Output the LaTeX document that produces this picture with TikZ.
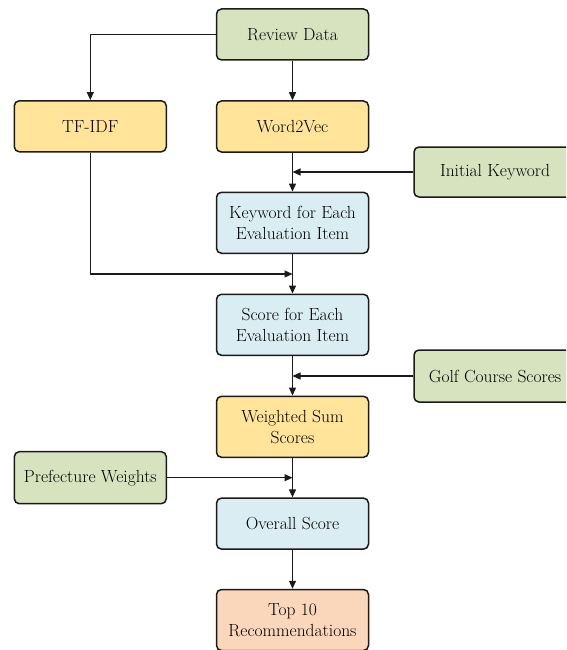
\documentclass[tikz,border=0pt]{standalone}
\usetikzlibrary{arrows.meta}
\definecolor{cgreen}{HTML}{D7E3BF}
\definecolor{cyellow}{HTML}{FFE499}
\definecolor{cblue}{HTML}{DAEDF3}
\definecolor{cpeach}{HTML}{FAD7BA}
\definecolor{cline}{HTML}{1A1A1A}
\begin{document}
\begin{tikzpicture}[x=1pt,y=-1pt,
  box/.style={draw=cline, line width=1.5pt, rounded corners=5pt, minimum width=152pt, align=center, inner sep=2pt,
    font=\rmfamily\fontsize{17.5}{21}\selectfont, text=black},
  one/.style={minimum height=51pt},
  two/.style={minimum height=61pt},
  side/.style={box, minimum width=162pt, fill=cgreen},
  arr/.style={draw=cline, line width=1.2pt, -{Triangle[length=8pt,width=7pt]}}]
\useasboundingbox (0,0) rectangle (566,650);
\clip (0,0) rectangle (566,650);
\node[box,one,fill=cgreen] (rd) at (292.5,34.5) {Review Data};
\node[box,one,fill=cyellow] (tf) at (90.3,126.3) {TF-IDF};
\node[box,one,fill=cyellow] (wv) at (292.5,126.5) {Word2Vec};
\node[side,minimum height=50pt] (ik) at (495,172) {Initial Keyword};
\node[box,two,fill=cblue] (kw) at (292.5,222.8) {Keyword for Each\\Evaluation Item};
\node[box,two,fill=cblue] (sc) at (292.5,324.8) {Score for Each\\Evaluation Item};
\node[side,minimum height=52pt] (gc) at (495,376) {Golf Course Scores};
\node[box,two,fill=cyellow] (ws) at (292.5,426.8) {Weighted Sum\\Scores};
\node[box,minimum height=52pt,fill=cgreen] (pw) at (90.3,477.7) {Prefecture Weights};
\node[box,one,fill=cblue] (os) at (292.5,523.6) {Overall Score};
\node[box,two,fill=cpeach] (tp) at (292.5,620) {Top 10\\Recommendations};
\coordinate (j0) at (292.5,172);
\coordinate (j1) at (292.5,274);
\coordinate (j2) at (292.5,376);
\coordinate (j3) at (292.5,477.7);
\draw[arr] (rd.west) -| (tf.north);
\draw[arr] (rd.south) -- (wv.north);
\draw[arr] (wv.south) -- (kw.north);
\draw[arr] (ik.west) -- (j0);
\draw[arr] (tf.south) |- (j1);
\draw[arr] (kw.south) -- (sc.north);
\draw[arr] (sc.south) -- (ws.north);
\draw[arr] (gc.west) -- (j2);
\draw[arr] (ws.south) -- (os.north);
\draw[arr] (pw.east) -- (j3);
\draw[arr] (os.south) -- (tp.north);
\end{tikzpicture}
\end{document}
